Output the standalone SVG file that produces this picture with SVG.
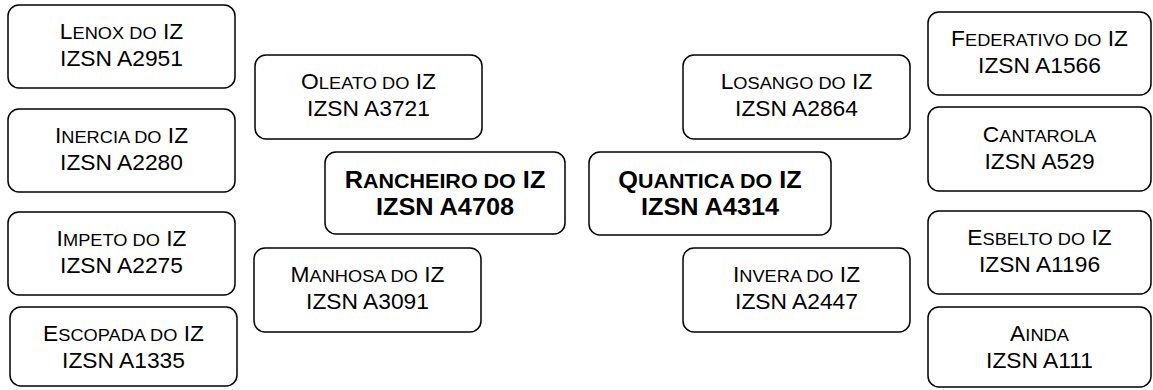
<svg xmlns="http://www.w3.org/2000/svg" width="1153" height="390" viewBox="0 0 1153 390">
<style>
rect.box{fill:#fff;stroke:#000;stroke-width:1.5}
text{font-family:"Liberation Sans",Arial,sans-serif;font-size:21.5px;fill:#000;text-anchor:middle}
.b{font-weight:bold;font-size:23px}
.s{font-size:0.8em}
.b .s{font-size:0.85em}
</style>
<rect width="1153" height="390" fill="#fff"/>
<g id="connectors"/>
<g id="lenox"><rect class="box" x="8" y="5" width="227" height="83" rx="11"/>
<g transform="translate(121.5 0) scale(1.06 1)"><text y="39">L<tspan class="s">ENOX DO</tspan> IZ</text><text y="66">IZSN A2951</text></g></g>
<g id="inercia"><rect class="box" x="8" y="109" width="227" height="83" rx="11"/>
<g transform="translate(121.5 0) scale(1.06 1)"><text y="143">I<tspan class="s">NERCIA DO</tspan> IZ</text><text y="170">IZSN A2280</text></g></g>
<g id="impeto"><rect class="box" x="8" y="212" width="227" height="83" rx="11"/>
<g transform="translate(121.5 0) scale(1.06 1)"><text y="246">I<tspan class="s">MPETO DO</tspan> IZ</text><text y="273">IZSN A2275</text></g></g>
<g id="escopada"><rect class="box" x="10" y="307" width="227" height="79" rx="11"/>
<g transform="translate(123.5 0) scale(1.06 1)"><text y="341">E<tspan class="s">SCOPADA DO</tspan> IZ</text><text y="368">IZSN A1335</text></g></g>
<g id="oleato"><rect class="box" x="255" y="55" width="227" height="84" rx="11"/>
<g transform="translate(368.5 0) scale(1.06 1)"><text y="89">O<tspan class="s">LEATO DO</tspan> IZ</text><text y="116">IZSN A3721</text></g></g>
<g id="rancheiro"><rect class="box" x="325" y="152" width="240" height="82" rx="11"/>
<g transform="translate(445 0) scale(1.1 1)"><text class="b" y="188">R<tspan class="s">ANCHEIRO DO</tspan> IZ</text><text class="b" y="215">IZSN A4708</text></g></g>
<g id="manhosa"><rect class="box" x="254" y="248" width="227" height="84" rx="11"/>
<g transform="translate(367.5 0) scale(1.06 1)"><text y="282">M<tspan class="s">ANHOSA DO</tspan> IZ</text><text y="309">IZSN A3091</text></g></g>
<g id="quantica"><rect class="box" x="589" y="152" width="242" height="83" rx="11"/>
<g transform="translate(710 0) scale(1.1 1)"><text class="b" y="188">Q<tspan class="s">UANTICA DO</tspan> IZ</text><text class="b" y="215">IZSN A4314</text></g></g>
<g id="losango"><rect class="box" x="683" y="55" width="227" height="84" rx="11"/>
<g transform="translate(796.5 0) scale(1.06 1)"><text y="89">L<tspan class="s">OSANGO DO</tspan> IZ</text><text y="116">IZSN A2864</text></g></g>
<g id="invera"><rect class="box" x="683" y="248" width="227" height="84" rx="11"/>
<g transform="translate(796.5 0) scale(1.06 1)"><text y="282">I<tspan class="s">NVERA DO</tspan> IZ</text><text y="309">IZSN A2447</text></g></g>
<g id="federativo"><rect class="box" x="928" y="12" width="223" height="83" rx="11"/>
<g transform="translate(1039.5 0) scale(1.06 1)"><text y="46">F<tspan class="s">EDERATIVO DO</tspan> IZ</text><text y="73">IZSN A1566</text></g></g>
<g id="cantarola"><rect class="box" x="928" y="107" width="223" height="84" rx="11"/>
<g transform="translate(1039.5 0) scale(1.06 1)"><text y="142">C<tspan class="s">ANTAROLA</tspan></text><text y="169">IZSN A529</text></g></g>
<g id="esbelto"><rect class="box" x="928" y="211" width="223" height="83" rx="11"/>
<g transform="translate(1039.5 0) scale(1.06 1)"><text y="245">E<tspan class="s">SBELTO DO</tspan> IZ</text><text y="272">IZSN A1196</text></g></g>
<g id="ainda"><rect class="box" x="928" y="307" width="223" height="80" rx="11"/>
<g transform="translate(1039.5 0) scale(1.06 1)"><text y="341">A<tspan class="s">INDA</tspan></text><text y="368">IZSN A111</text></g></g>
</svg>
